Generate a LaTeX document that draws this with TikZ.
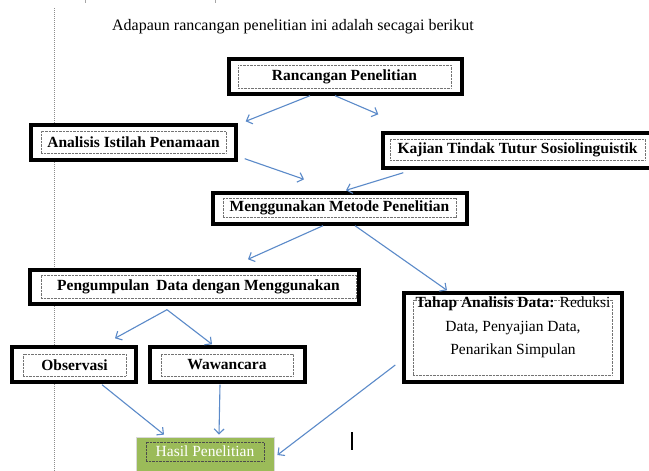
\documentclass[tikz,border=0pt]{standalone}
\usepackage{fontspec}
\setmainfont{Liberation Serif}
\usetikzlibrary{arrows.meta}
\definecolor{arrblue}{RGB}{91,138,201}
\definecolor{hasilgreen}{RGB}{155,187,89}
\newcommand\lblfont{\fontsize{15.5}{18}\selectfont\bfseries}
\newcommand\regfont{\fontsize{15.5}{18}\selectfont}
\begin{document}
\begin{tikzpicture}[x=1pt,y=-1pt,
  outerbox/.style={draw=black,line width=3.4pt,fill=white,inner sep=0pt},
  innerbox/.style={draw=black!55,line width=0.7pt,dash pattern=on 0.7pt off 0.7pt,inner sep=0pt,font=\lblfont},
  conn/.style={draw=arrblue,line width=1.1pt,-{Straight Barb[length=5pt,width=10pt]}},
]
\useasboundingbox[fill=white] (0,0) rectangle (649,471);

% page furniture
\draw[black!45,line width=0.8pt,dash pattern=on 1pt off 1pt] (54,8) -- (54,471);
\draw[black!35,line width=0.8pt] (85,0) -- (85,3);
\draw[black!35,line width=0.8pt] (215,0) -- (215,3);

% title
\node[font=\fontsize{16}{19}\selectfont] (title) at (293,27) {Adapaun rancangan penelitian ini adalah secagai berikut};

% Rancangan Penelitian
\node[outerbox,minimum width=233pt,minimum height=35pt] (rp) at (345.5,76.5) {};
\node[innerbox,minimum width=213pt,minimum height=23pt] (rpi) at (344.5,76.5) {Rancangan Penelitian};

% Analisis Istilah Penamaan
\node[outerbox,minimum width=205pt,minimum height=35pt] (ai) at (133.5,142.5) {};
\node[innerbox,minimum width=185pt,minimum height=22pt] (aii) at (133.5,142) {Analisis Istilah Penamaan};

% Kajian Tindak Tutur Sosiolinguistik
\node[outerbox,minimum width=268pt,minimum height=35pt] (kt) at (517,150.5) {};
\node[innerbox,minimum width=255pt,minimum height=21pt] (kti) at (517.5,149.5) {Kajian Tindak Tutur Sosiolinguistik};

% Menggunakan Metode Penelitian
\node[outerbox,minimum width=254pt,minimum height=31pt] (mm) at (340,208.5) {};
\node[innerbox,minimum width=233pt,minimum height=19pt] (mmi) at (339.5,208) {Menggunakan Metode Penelitian};

% Pengumpulan Data
\node[outerbox,minimum width=329pt,minimum height=34pt] (pd) at (194.5,287) {};
\node[innerbox,minimum width=315pt,minimum height=23pt] (pdi) at (198.5,286.5) {Pengumpulan\hspace{0.45em}Data dengan Menggunakan};

% Observasi
\node[outerbox,minimum width=124pt,minimum height=35pt] (ob) at (74,364.5) {};
\node[innerbox,minimum width=103pt,minimum height=22pt] (obi) at (74.5,365) {Observasi};

% Wawancara
\node[outerbox,minimum width=155pt,minimum height=35pt] (wa) at (227.5,364.5) {};
\node[innerbox,minimum width=132pt,minimum height=22pt] (wai) at (227,365) {Wawancara};

% Tahap Analisis Data
\node[outerbox,minimum width=218pt,minimum height=89pt] (ta) at (513,337.5) {};
\node[innerbox,minimum width=199pt,minimum height=75pt] (tai) at (512.5,337.5) {};
\node[font=\fontsize{15.5}{23.5}\selectfont,align=center,inner sep=0pt] (tat) at (513,327.5)
  {\textbf{Tahap Analisis Data:} Reduksi\\Data, Penyajian Data,\\Penarikan Simpulan};

% Hasil Penelitian
\node[draw=black!15,line width=0.8pt,fill=hasilgreen,inner sep=0pt,minimum width=138pt,minimum height=35pt] (hp) at (205,454.5) {};
\node[innerbox,draw=black!70,font=\regfont,text=white,minimum width=118pt,minimum height=19pt] (hpi) at (205,451.5) {Hasil Penelitian};

% cursor
\draw[black,line width=1.4pt] (352,432) -- (352,450);

% connectors
\draw[conn] ([xshift=-35.5pt]rp.south) -- ([shift={(8,-2)}]ai.north east);
\draw[conn] ([xshift=-10.5pt]rp.south) -- ([shift={(-3,-17)}]kt.north west);
\draw[conn] ([shift={(7,-3)}]ai.south east) -- ([shift={(-36,-12)}]mm.north);
\draw[conn] ([shift={(22,3)}]kt.south west) -- ([shift={(6,-1)}]mm.north);
\draw[conn] ([xshift=-17pt]mm.south) -- ([shift={(53.5,-9)}]pd.north);
\draw[conn] ([xshift=15pt]mm.south) -- ([shift={(-66,-1)}]ta.north);
\draw[conn] ([shift={(-27.5,4)}]pd.south) -- ([shift={(41,-7)}]ob.north);
\draw[conn] ([shift={(-27.5,4)}]pd.south) -- ([shift={(-15.5,-1)}]wa.north);
\draw[conn] ([shift={(28,1)}]ob.south) -- ([shift={(-41,-2)}]hp.north);
\draw[conn] ([shift={(-7.5,1)}]wa.south) -- ([shift={(14,-2)}]hp.north);
\draw[conn] ([shift={(-7,27.5)}]ta.west) -- ([shift={(3,0.5)}]hp.east);
\end{tikzpicture}
\end{document}
